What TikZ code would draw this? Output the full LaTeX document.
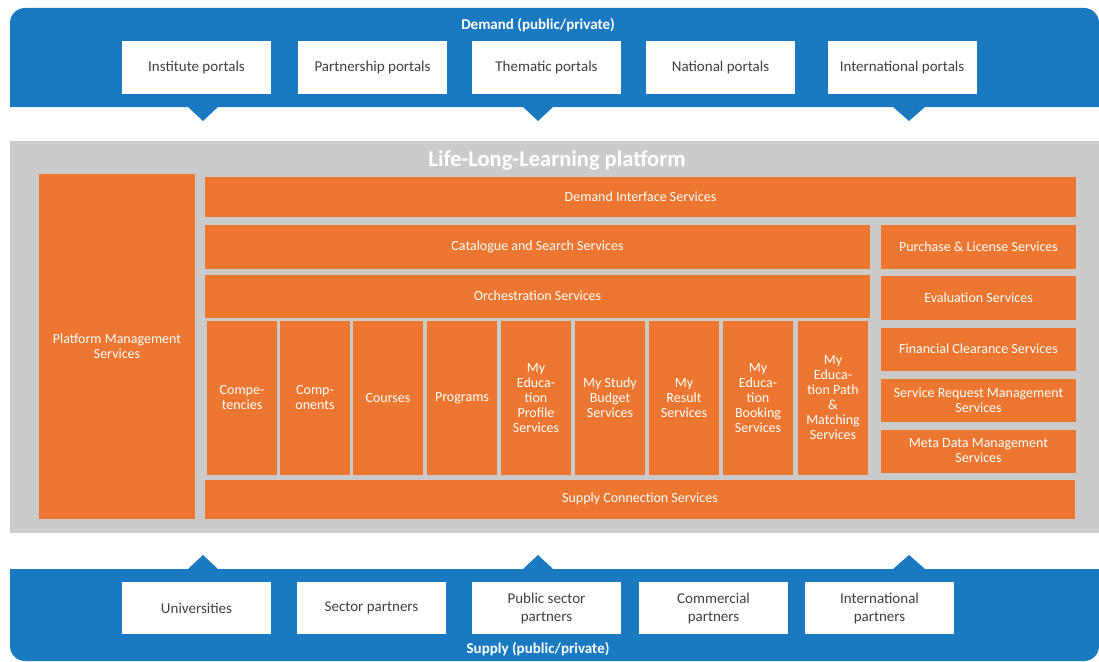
\documentclass[tikz,border=0pt]{standalone}
\usepackage{fontspec}
\setmainfont{Carlito}
\definecolor{bandblue}{RGB}{26,122,193}
\definecolor{svcorange}{RGB}{237,119,48}
\definecolor{platgray}{RGB}{203,203,203}
\definecolor{txtgray}{RGB}{64,64,64}
\tikzset{
  portal/.style={fill=white, text=txtgray, inner sep=0pt, align=center,
    minimum width=149pt, minimum height=53pt, font=\fontsize{15}{18}\selectfont},
  svc/.style={fill=svcorange, text=white, inner sep=0pt, align=center,
    font=\fontsize{14}{15}\selectfont},
  col/.style={svc, minimum width=70pt, minimum height=154pt},
  side/.style={svc, minimum width=195pt, minimum height=43pt},
  bandlabel/.style={text=white, font=\fontsize{15}{18}\selectfont\bfseries}
}
\begin{document}
\begin{tikzpicture}[x=1pt,y=-1pt]
      \useasboundingbox (0,0) rectangle (1099,661);
      % demand band
      \fill[bandblue] (10,107) {[rounded corners=15pt] -- (10,8) -- (1099,8)} -- (1099,107)
        -- (925,107) -- (909,121) -- (893,107)
        -- (553,107) -- (538,121) -- (523,107)
        -- (218,107) -- (203,121) -- (188,107) -- cycle;
      % supply band
      \fill[bandblue] (10,569) {[rounded corners=15pt] -- (10,661) -- (1099,661)} -- (1099,569)
        -- (925,569) -- (909,555) -- (893,569)
        -- (553,569) -- (538,555) -- (523,569)
        -- (218,569) -- (203,555) -- (188,569) -- cycle;
      % platform
      \fill[platgray] (10,141) rectangle (1099,533);
      \draw
        (538,25) node[bandlabel] (demand){Demand (public/private)}
        (196.5,67.5) node[portal] (inst){Institute portals}
        (372.5,67.5) node[portal] (part){Partnership portals}
        (546.5,67.5) node[portal] (them){Thematic portals}
        (720.5,67.5) node[portal] (natl){National portals}
        (902,67.5) node[portal] (intl){International portals};
      \draw
        (557,161) node[text=white, font=\fontsize{22.5}{26}\selectfont\bfseries] (title){Life-Long-Learning platform}
        (117,346.5) node[svc, minimum width=156pt, minimum height=345pt] (pms){Platform Management\\Services}
        (640.5,197) node[svc, minimum width=871pt, minimum height=40pt] (dis){Demand Interface Services}
        (537.5,246.5) node[svc, minimum width=665pt, minimum height=44pt] (css){Catalogue and Search Services}
        (537.5,296) node[svc, minimum width=665pt, minimum height=43pt] (orch){Orchestration Services}
        (978.5,246.5) node[side, minimum height=44pt] (pls){Purchase \& License Services}
        (978.5,297.5) node[side, minimum height=44pt] (eval){Evaluation Services}
        (978.5,349) node[side] (fcs){Financial Clearance Services}
        (978.5,400) node[side] (srm){Service Request Management\\Services}
        (978.5,451) node[side] (mdm){Meta Data Management\\Services}
        (242,398) node[col] (comp){Compe-\\tencies}
        (315,398) node[col] (cmpo){Comp-\\onents}
        (388,398) node[col] (cour){Courses}
        (462,398) node[col] (prog){Programs}
        (536,398) node[col] (prof){My\\Educa-\\tion\\Profile\\Services}
        (610,398) node[col] (budg){My Study\\Budget\\Services}
        (684,398) node[col] (resu){My\\Result\\Services}
        (758,398) node[col] (book){My\\Educa-\\tion\\Booking\\Services}
        (833,398) node[col] (path){My\\Educa-\\tion Path\\\&\\Matching\\Services}
        (640,499) node[svc, minimum width=870pt, minimum height=39pt] (scs){Supply Connection Services};
      \draw
        (196.5,608) node[portal, minimum height=52pt] (univ){Universities}
        (371.5,608) node[portal, minimum height=52pt] (sect){Sector partners}
        (546.5,608) node[portal, minimum height=52pt] (publ){Public sector\\partners}
        (713.5,608) node[portal, minimum height=52pt] (comm){Commercial\\partners}
        (879.5,608) node[portal, minimum height=52pt] (intp){International\\partners}
        (538,649.5) node[bandlabel] (supply){Supply (public/private)};
    \end{tikzpicture}
\end{document}
